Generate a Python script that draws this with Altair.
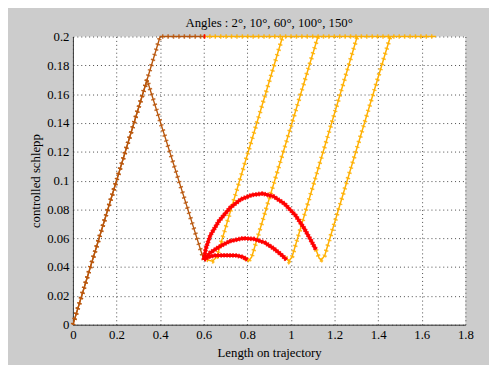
import altair as alt
import pandas as pd

title_text = "Angles : 2°, 10°, 60°, 100°, 150°"
x_title = "Length on trajectory"
y_title = "controlled schlepp"
x_ticks = [0, 0.2, 0.4, 0.6, 0.8, 1.0, 1.2, 1.4, 1.6, 1.8]
y_ticks = [0, 0.02, 0.04, 0.06, 0.08, 0.1, 0.12, 0.14, 0.16, 0.18, 0.2]

# brown series (before the turn)
brown_a_x = [0, 0.4, 0.6]
brown_a_y = [0, 0.2, 0.2]
brown_b_x = [0, 0.34, 0.6]
brown_b_y = [0, 0.17, 0.045]

# orange series (after the turn)
orange_top_x = [0.6, 1.665]
orange_top_y = [0.2, 0.2]
orange1_x = [0.615, 0.64, 0.66, 0.962]
orange1_y = [0.045, 0.044, 0.047, 0.2]
orange2_x = [0.79, 0.805, 0.82, 1.124]
orange2_y = [0.046, 0.044, 0.047, 0.2]
orange3_x = [0.975, 0.99, 1.005, 1.304]
orange3_y = [0.047, 0.044, 0.047, 0.2]
orange4_x = [1.115, 1.13, 1.14, 1.155, 1.456]
orange4_y = [0.052, 0.046, 0.045, 0.048, 0.2]

# red series (turning arcs)
red_top_x = [0.6, 0.607]
red_top_y = [0.2, 0.2]
red1_x = [0.6, 0.62, 0.65, 0.7, 0.75, 0.78, 0.8]
red1_y = [0.045, 0.047, 0.048, 0.0482, 0.048, 0.047, 0.045]
red2_x = [0.6, 0.63, 0.67, 0.72, 0.78, 0.83, 0.88, 0.92, 0.96, 0.98]
red2_y = [0.045, 0.05, 0.054, 0.058, 0.06, 0.0595, 0.057, 0.053, 0.048, 0.045]
red3_x = [0.6, 0.61, 0.63, 0.67, 0.72, 0.77, 0.82, 0.87, 0.92, 0.97, 1.02, 1.06, 1.09, 1.115]
red3_y = [0.045, 0.053, 0.062, 0.072, 0.081, 0.087, 0.09, 0.091, 0.089, 0.084, 0.076, 0.067, 0.059, 0.052]

colors = {"brown": "#b8560c", "orange": "#ffb000", "red": "#ff0000"}


def frame(segments):
    rows = []
    for name, xs, ys in segments:
        for i, (xv, yv) in enumerate(zip(xs, ys)):
            rows.append({"seg": name, "i": i, "x": xv, "y": yv})
    return pd.DataFrame(rows)


brown_df = frame([("a", brown_a_x, brown_a_y), ("b", brown_b_x, brown_b_y)])
orange_df = frame([
    ("top", orange_top_x, orange_top_y),
    ("o1", orange1_x, orange1_y),
    ("o2", orange2_x, orange2_y),
    ("o3", orange3_x, orange3_y),
    ("o4", orange4_x, orange4_y),
])
red_df = frame([
    ("top", red_top_x, red_top_y),
    ("r1", red1_x, red1_y),
    ("r2", red2_x, red2_y),
    ("r3", red3_x, red3_y),
])

xenc = alt.X("x:Q", scale=alt.Scale(domain=[0, 1.8], nice=False, zero=False),
             axis=alt.Axis(values=x_ticks, format="~g", title=x_title, labelFlush=False))
yenc = alt.Y("y:Q", scale=alt.Scale(domain=[0, 0.2], nice=False),
             axis=alt.Axis(values=y_ticks, format="~g", title=y_title))


def lines(df, color, w_base, w_tick, dash):
    enc = dict(x=xenc, y=yenc, detail="seg:N", order="i:Q")
    base = alt.Chart(df).mark_line(color=color, strokeWidth=w_base).encode(**enc)
    ticks = alt.Chart(df).mark_line(color=color, strokeWidth=w_tick, strokeDash=dash, opacity=0.85).encode(**enc)
    return [base, ticks]


layers = []
layers += lines(orange_df, colors["orange"], 1.5, 4.5, [1.5, 4])
layers += lines(brown_df, colors["brown"], 1.4, 4.5, [1.5, 4])
layers += lines(red_df, colors["red"], 3.2, 4.8, [1.5, 1.5])

chart = alt.layer(*layers).properties(
    width=399,
    height=293,
    title=alt.TitleParams(title_text, fontSize=13, font="Liberation Serif",
                          fontWeight="normal", color="black", offset=1, dy=4),
    background="#cccccc",
    padding={"left": 66, "top": 26, "right": 24, "bottom": 38},
    autosize=alt.AutoSizeParams(type="none"),
).configure_view(
    fill="white", strokeWidth=0
).configure_axis(
    labelFont="Liberation Serif", labelFontSize=13, labelColor="black",
    titleFont="Liberation Serif", titleFontSize=13, titleFontWeight="normal",
    titleColor="black", domainColor="#333333", domainWidth=1,
    grid=True, gridColor="#333333", gridDash=[1, 3], gridOpacity=0.9,
    ticks=False, labelPadding=4,
).configure_axisY(titlePadding=4).configure_axisX(titlePadding=5)

chart.save("out.html", embed_options={"renderer": "svg", "actions": False})
